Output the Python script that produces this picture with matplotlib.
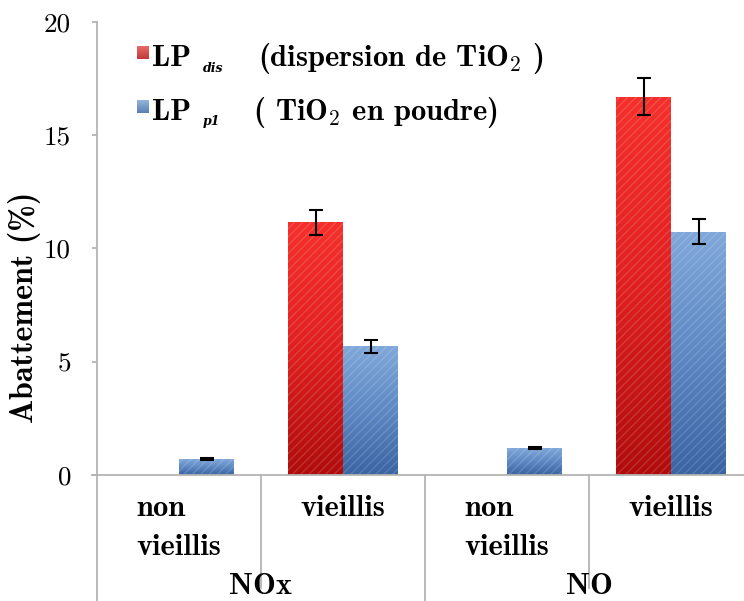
import numpy as np
import matplotlib
matplotlib.use("Agg")
import matplotlib.pyplot as plt
from matplotlib.colors import LinearSegmentedColormap

# ---------------- data ----------------
categories = ["non\nvieillis", "vieillis", "non\nvieillis", "vieillis"]
groups = ["NOx", "NO"]
lp_dis = [np.nan, 11.15, np.nan, 16.7]
lp_dis_err = [0.0, 0.55, 0.0, 0.82]
lp_p1 = [0.7, 5.68, 1.18, 10.75]
lp_p1_err = [0.03, 0.28, 0.05, 0.55]
yticks = [0, 5, 10, 15, 20]

plt.rcParams["font.family"] = "cmr10"
plt.rcParams["mathtext.fontset"] = "cm"
plt.rcParams["axes.formatter.use_mathtext"] = True

W, H = 744, 601
fig = plt.figure(figsize=(W / 100, H / 100), dpi=100)

def fx(px):
    return px / W

def fy(py):
    return 1 - py / H

x0, xz, y0, y20 = 97, 744, 475, 22
catw = 164.0
ax = fig.add_axes([fx(x0), fy(y0), fx(xz) - fx(x0), fy(y20) - fy(y0)])

gray = "#b4b4b4"
for s in ["top", "right", "bottom"]:
    ax.spines[s].set_visible(False)
ax.spines["left"].set_color(gray)
ax.spines["left"].set_linewidth(1.3)
ax.set_yticks(yticks)
ax.set_yticklabels([str(v) for v in yticks])
ax.tick_params(axis="y", colors=gray, length=3.6, width=1.3, labelsize=19.5,
               labelcolor="black", pad=15)
ax.set_xticks([])

x = np.arange(len(categories))
bw = 55 / catw

red_cmap = LinearSegmentedColormap.from_list("r", ["#b00c0c", "#e02020", "#f5302c"])
blue_cmap = LinearSegmentedColormap.from_list("b", ["#3a64a2", "#5d88c3", "#80a8da"])

def grad_bars(bars, cmap):
    for p in bars:
        h = p.get_height()
        if not np.isfinite(h) or h <= 0:
            continue
        xl = p.get_x()
        w = p.get_width()
        grad = np.linspace(0, 1, 256).reshape(-1, 1)
        im = ax.imshow(grad, cmap=cmap, origin="lower", aspect="auto",
                       extent=[xl, xl + w, 0, h], zorder=2)
        im.set_clip_path(p)

b1 = ax.bar(x - bw / 2, lp_dis, bw, facecolor="none", edgecolor=(1, 1, 1, 0.15),
            hatch="////", linewidth=0, zorder=3)
b2 = ax.bar(x + bw / 2, lp_p1, bw, facecolor="none", edgecolor=(1, 1, 1, 0.15),
            hatch="////", linewidth=0, zorder=3)
grad_bars(b1, red_cmap)
grad_bars(b2, blue_cmap)
ax.set_xlim(-0.5, -0.5 + (xz - x0) / catw)
ax.set_ylim(0, 20)

ax.errorbar(x - bw / 2, lp_dis, yerr=lp_dis_err, fmt="none", ecolor="black",
            elinewidth=1.5, capsize=5, capthick=1.5, zorder=4)
ax.errorbar(x + bw / 2, lp_p1, yerr=lp_p1_err, fmt="none", ecolor="black",
            elinewidth=1.5, capsize=5, capthick=1.5, zorder=4)

trans = ax.get_xaxis_transform()
def ay(py):
    return (y0 - py) / (y0 - y20)

ax.set_ylabel("Abattement (%)", fontfamily="cmb10", fontsize=23)
ax.yaxis.label.set_horizontalalignment("center")
ax.yaxis.label.set_verticalalignment("center")
ax.yaxis.set_label_coords((25 - x0) / (xz - x0), ay(307))

# category axis lines (below the plot)
ax.plot([-0.5 - 5 / catw, ax.get_xlim()[1]], [0, 0], color=gray, lw=1.3,
        transform=trans, clip_on=False, zorder=5)
ax.plot([-0.5, -0.5], [0, ay(601)], color=gray, lw=1.3, transform=trans, clip_on=False)
for xb, bottom in [(0.5, 588), (1.5, 601), (2.5, 588)]:
    ax.plot([xb, xb], [0, ay(bottom)], color=gray, lw=1.3, transform=trans, clip_on=False)

for i, c in enumerate(categories):
    ax.text(x[i], ay(495), c, transform=trans, ha="center", va="top",
            multialignment="left", fontfamily="cmb10", fontsize=22, linespacing=1.55)
for gi, g in enumerate(groups):
    ax.text(2 * gi + 0.5, ay(594), g, transform=trans, ha="center", va="baseline",
            fontfamily="cmb10", fontsize=22)

# legend
red_leg = LinearSegmentedColormap.from_list("rl", ["#c0393a", "#e96a66"])
blue_leg = LinearSegmentedColormap.from_list("bl", ["#5a7fb2", "#9ab9df"])
for (ytop, cmap) in [(46, red_leg), (100, blue_leg)]:
    lax = fig.add_axes([fx(137), fy(ytop + 13), fx(149) - fx(137), fy(ytop) - fy(ytop + 13)])
    lax.imshow(np.linspace(0, 1, 64).reshape(-1, 1), cmap=cmap, origin="lower", aspect="auto")
    lax.axis("off")

fig.text(fx(152), fy(66), "LP", fontfamily="cmb10", fontsize=22, va="baseline")
fig.text(fx(203), fy(72), "dis", fontfamily="DejaVu Serif", fontstyle="italic",
         fontweight="bold", fontsize=9, va="baseline")
fig.text(fx(258), fy(66), r"(dispersion de TiO$_{\mathbf{2}}$ )", fontfamily="cmb10",
         fontsize=22, va="baseline")
fig.text(fx(152), fy(120), "LP", fontfamily="cmb10", fontsize=22, va="baseline")
fig.text(fx(203), fy(125), "p1", fontfamily="DejaVu Serif", fontstyle="italic",
         fontweight="bold", fontsize=9, va="baseline")
fig.text(fx(253), fy(120), r"( TiO$_{\mathbf{2}}$ en poudre)", fontfamily="cmb10",
         fontsize=22, va="baseline")

fig.savefig("out.png", dpi=100)
